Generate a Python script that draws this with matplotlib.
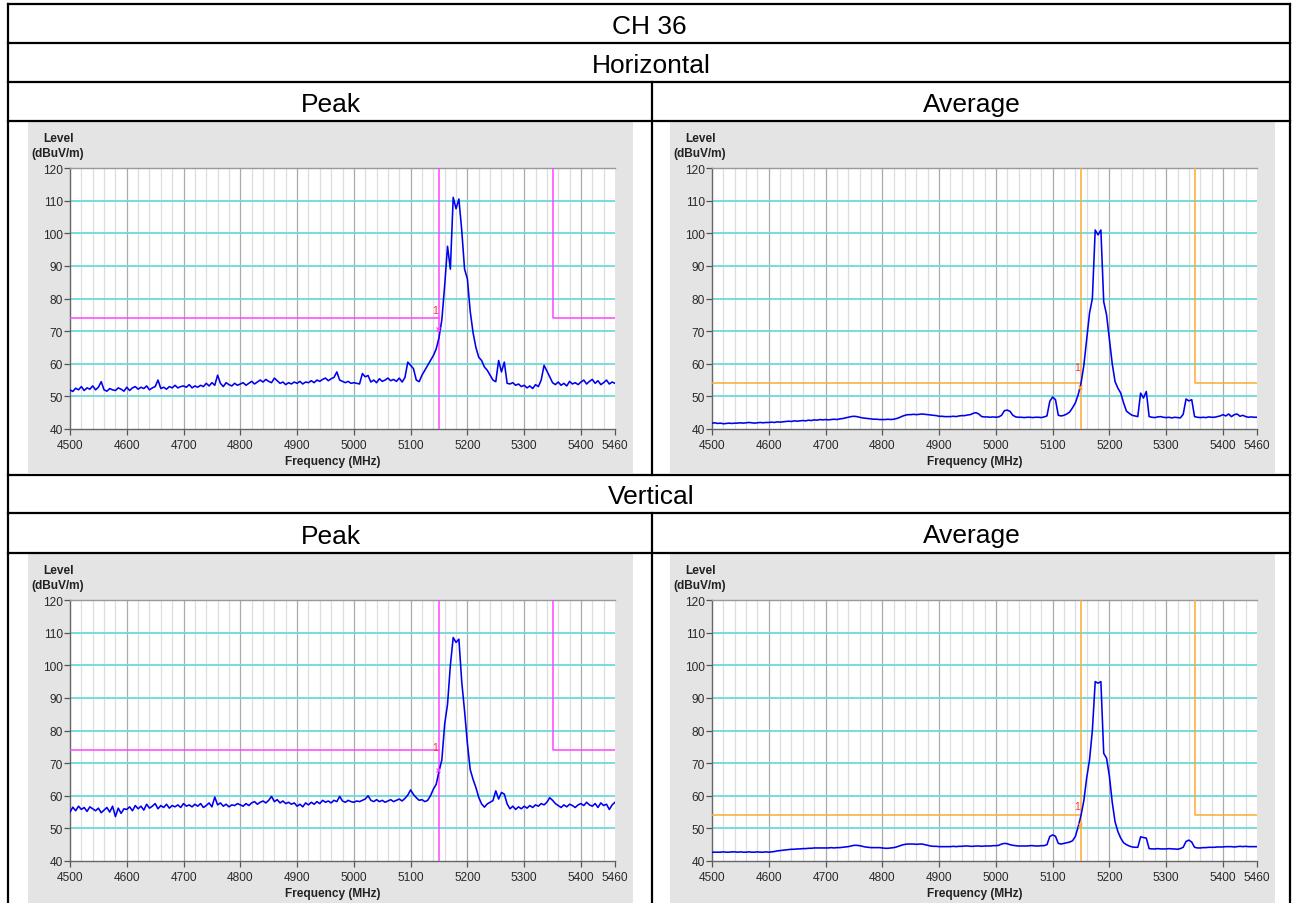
import numpy as np
import matplotlib
matplotlib.use('Agg')
import matplotlib.pyplot as plt
from matplotlib.lines import Line2D
from matplotlib.patches import Rectangle

plt.rcParams['font.family'] = ['Liberation Sans', 'DejaVu Sans']

# ---------------- data ----------------
title = "CH 36"
polarizations = ["Horizontal", "Vertical"]
detectors = ["Peak", "Average"]

freq = np.arange(4500, 5461, 5)  # MHz sweep points

x_ticks = [4500, 4600, 4700, 4800, 4900, 5000, 5100, 5200, 5300, 5400, 5460]
y_ticks = [40, 50, 60, 70, 80, 90, 100, 110, 120]

band_low = 5150
band_high = 5350
peak_limit = 74
avg_limit = 54

peak_h = [
    52.0, 51.5, 52.5, 52.0, 53.0, 51.8, 52.6, 52.2, 53.2, 52.0, 52.8, 54.5, 52.0, 51.6, 52.4, 52.0, 51.8, 52.6, 52.2, 51.6,
    52.8, 51.8, 52.6, 53.0, 52.2, 52.8, 52.4, 53.2, 52.0, 52.6, 53.0, 55.0, 52.4, 52.8, 52.2, 53.0, 52.6, 53.4, 52.6, 53.0,
    53.2, 52.8, 53.6, 52.6, 53.2, 52.8, 53.4, 53.0, 54.0, 53.2, 54.2, 53.4, 56.5, 54.0, 53.0, 54.2, 53.6, 53.2, 54.0, 53.4,
    53.8, 54.2, 53.4, 54.0, 54.6, 53.8, 54.4, 55.0, 54.4, 55.2, 54.6, 54.2, 55.6, 54.8, 54.0, 54.4, 53.6, 54.2, 53.8, 54.4,
    54.0, 54.6, 53.8, 54.4, 54.2, 54.8, 54.2, 55.0, 54.6, 55.2, 55.6, 54.8, 55.4, 55.8, 57.5, 55.0, 54.6, 54.2, 54.6, 54.0,
    54.2, 54.0, 53.8, 57.0, 56.0, 56.4, 54.4, 55.0, 54.2, 55.4, 54.6, 55.0, 55.6, 54.8, 55.2, 54.6, 55.6, 54.4, 55.8, 60.5,
    59.5, 58.5, 55.0, 54.5, 56.5, 58.0, 59.5, 61.0, 62.5, 64.5, 68.0, 73.5, 84.0, 96.0, 89.0, 111.0, 107.5, 110.5, 101.0, 89.0,
    86.0, 76.0, 69.5, 65.0, 62.0, 61.0, 59.0, 58.0, 56.5, 55.0, 54.5, 61.0, 57.5, 60.5, 54.0, 53.8, 54.2, 53.4, 53.8, 53.0,
    53.4, 52.6, 53.2, 52.4, 53.6, 53.0, 55.0, 59.5, 57.8, 56.0, 54.2, 53.6, 54.4, 53.4, 54.0, 53.2, 54.6, 53.8, 54.2, 53.6,
    54.4, 55.0, 53.8, 54.6, 55.2, 54.0, 54.8, 53.6, 54.2, 55.0, 53.8, 54.4, 54.0,
]

avg_h = [
    41.8, 41.9, 41.7, 41.8, 41.6, 41.7, 41.8, 41.7, 41.8, 41.8, 41.9, 41.8, 41.9, 42.0, 41.9, 41.8, 41.9, 42.0, 41.9, 42.0,
    42.0, 42.1, 42.0, 42.2, 42.1, 42.2, 42.3, 42.4, 42.3, 42.5, 42.4, 42.5, 42.6, 42.5, 42.7, 42.6, 42.8, 42.7, 42.9, 42.8,
    42.9, 42.8, 42.9, 43.0, 42.9, 43.1, 43.2, 43.4, 43.6, 43.8, 43.9, 43.8, 43.6, 43.4, 43.3, 43.2, 43.1, 43.0, 43.0, 42.9,
    42.9, 42.9, 43.0, 42.9, 43.0, 43.2, 43.5, 43.9, 44.2, 44.4, 44.4, 44.5, 44.4, 44.5, 44.6, 44.5, 44.4, 44.3, 44.2, 44.1,
    43.9, 43.9, 43.8, 43.8, 43.8, 43.9, 43.8, 44.0, 44.1, 44.1, 44.3, 44.4, 44.8, 45.0, 44.6, 43.8, 43.7, 43.7, 43.6, 43.7,
    43.6, 43.7, 44.2, 45.6, 45.8, 45.4, 44.2, 43.7, 43.6, 43.6, 43.5, 43.6, 43.6, 43.5, 43.6, 43.6, 43.5, 43.7, 44.0, 48.5,
    49.8, 49.0, 44.2, 44.0, 44.2, 44.6, 45.2, 46.5, 48.0, 50.5, 54.0, 59.5, 67.5, 75.5, 80.0, 101.0, 99.5, 101.0, 79.0, 75.0,
    67.5, 60.0, 54.5, 52.5, 51.0, 48.0, 45.5, 44.8, 44.2, 44.0, 43.8, 51.0, 49.5, 51.5, 43.8, 43.6, 43.5, 43.7, 43.8, 43.6,
    43.5, 43.6, 43.4, 43.6, 43.5, 43.4, 44.5, 49.2, 48.6, 49.0, 43.8, 43.6, 43.5, 43.6, 43.5, 43.7, 43.6, 43.6, 43.8, 44.0,
    44.4, 44.0, 44.6, 43.8, 44.4, 44.6, 43.9, 44.2, 43.8, 43.6, 43.7, 43.6, 43.6,
]

peak_v = [
    55.0, 56.5, 55.4, 56.8, 55.8, 56.4, 55.2, 56.6, 56.0, 55.4, 56.2, 54.8, 55.6, 56.4, 55.0, 56.8, 53.6, 56.2, 54.6, 56.0,
    55.8, 56.6, 55.4, 57.0, 56.0, 56.8, 55.6, 57.4, 56.2, 56.8, 57.6, 56.0, 57.0, 56.4, 57.4, 56.2, 57.0, 56.6, 57.2, 56.4,
    57.6, 56.8, 57.2, 56.6, 57.4, 56.8, 57.6, 56.4, 57.0, 57.8, 56.6, 59.6, 57.2, 57.8, 56.8, 57.4, 56.6, 57.2, 57.0, 57.6,
    57.2, 56.8, 57.6, 57.0, 57.8, 58.2, 57.4, 58.0, 58.4, 57.8, 58.6, 59.8, 58.2, 58.8, 57.8, 58.4, 57.6, 58.0, 57.4, 57.8,
    56.8, 57.4, 56.6, 57.8, 57.2, 58.0, 57.4, 58.2, 57.6, 58.6, 58.0, 58.4, 57.8, 58.6, 58.2, 59.8, 58.4, 58.0, 58.6, 58.2,
    58.0, 58.4, 58.2, 58.6, 59.0, 60.0, 58.6, 58.2, 58.8, 58.2, 58.6, 58.0, 58.4, 58.8, 58.2, 58.6, 59.0, 58.4, 59.2, 60.2,
    61.8, 60.4, 59.4, 58.6, 58.8, 58.2, 58.6, 60.0, 62.0, 63.5, 67.5, 71.0, 82.0, 88.0, 100.0, 108.5, 107.0, 108.0, 95.0, 86.0,
    76.0, 68.0, 65.0, 62.5, 59.5, 57.5, 56.5, 57.5, 58.0, 58.5, 61.5, 59.0, 61.0, 60.5, 57.5, 56.0, 56.8, 55.8, 56.6, 56.0,
    56.8, 56.2, 57.0, 56.4, 57.2, 56.8, 57.6, 57.2, 58.0, 59.4, 58.6, 57.6, 57.0, 56.4, 57.2, 56.6, 57.4, 57.0, 56.4, 57.2,
    57.6, 57.0, 58.0, 57.2, 56.8, 57.6, 56.4, 57.8, 57.0, 57.4, 55.8, 57.2, 58.0,
]

avg_v = [
    42.7, 42.7, 42.7, 42.7, 42.8, 42.7, 42.7, 42.8, 42.8, 42.7, 42.8, 42.7, 42.7, 42.8, 42.7, 42.7, 42.8, 42.7, 42.7, 42.8,
    42.7, 42.8, 42.9, 43.1, 43.2, 43.3, 43.4, 43.5, 43.6, 43.6, 43.7, 43.7, 43.8, 43.8, 43.9, 43.9, 44.0, 44.0, 44.0, 44.0,
    44.0, 44.0, 44.1, 44.0, 44.1, 44.1, 44.2, 44.3, 44.4, 44.6, 44.8, 44.8, 44.7, 44.5, 44.3, 44.2, 44.1, 44.1, 44.1, 44.1,
    44.0, 43.9, 43.9, 44.0, 44.1, 44.3, 44.6, 44.9, 45.1, 45.2, 45.2, 45.2, 45.1, 45.2, 45.2, 45.0, 44.8, 44.6, 44.5, 44.5,
    44.4, 44.4, 44.4, 44.4, 44.4, 44.5, 44.4, 44.5, 44.5, 44.6, 44.6, 44.5, 44.5, 44.6, 44.6, 44.5, 44.6, 44.6, 44.6, 44.7,
    44.7, 44.8, 45.2, 45.4, 45.3, 45.0, 44.8, 44.7, 44.6, 44.6, 44.6, 44.6, 44.7, 44.7, 44.6, 44.6, 44.7, 44.7, 45.0, 47.5,
    48.0, 47.6, 45.4, 45.2, 45.4, 45.6, 45.8, 46.2, 47.5, 50.5, 54.0, 58.5, 65.5, 71.0, 80.0, 95.0, 94.5, 95.0, 73.0, 71.5,
    66.0, 58.0, 52.0, 49.0, 47.0, 45.6, 45.0, 44.6, 44.3, 44.2, 44.2, 47.4, 47.2, 47.0, 43.8, 43.7, 43.7, 43.8, 43.7, 43.7,
    43.7, 43.8, 43.7, 43.7, 43.6, 43.8, 44.2, 46.0, 46.4, 45.8, 44.2, 44.0, 44.0, 44.1, 44.1, 44.2, 44.2, 44.2, 44.3, 44.3,
    44.3, 44.4, 44.4, 44.4, 44.3, 44.4, 44.5, 44.4, 44.5, 44.4, 44.4, 44.4, 44.4,
]

# marker "1" readings (value at the band edge)
marker_label_y = {"peak_h": 76.5, "avg_h": 59.0, "peak_v": 75.0, "avg_v": 57.0}
marker_point_y = {"peak_h": 70.5, "avg_h": 53.0, "peak_v": 68.0, "avg_v": 51.0}

# ---------------- figure ----------------
W, H = 1295, 904
fig = plt.figure(figsize=(W / 100, H / 100), dpi=100)
fig.patch.set_facecolor('white')


def fx(px):
    return px / W


def fy(py):
    return 1 - py / H


LINE_W = 1.6
BLACK = '#000000'


def hline(y, x0=8, x1=1290):
    fig.add_artist(Line2D([fx(x0), fx(x1)], [fy(y), fy(y)], color=BLACK, lw=LINE_W))


def vline(x, y0, y1):
    fig.add_artist(Line2D([fx(x), fx(x)], [fy(y0), fy(y1)], color=BLACK, lw=LINE_W))


for yy in [5, 44, 83, 122, 476, 514, 554]:
    hline(yy)
vline(8, 5, 904)
vline(1290, 5, 904)
vline(652, 83, 476)
vline(652, 514, 904)

HEAD_FS = 19
DY = 2.5
fig.text(fx(649), fy(24.5 + DY), title, ha='center', va='center', fontsize=HEAD_FS)
fig.text(fx(651), fy(63.5 + DY), polarizations[0], ha='center', va='center', fontsize=HEAD_FS)
fig.text(fx(331), fy(102.5 + DY), detectors[0], ha='center', va='center', fontsize=HEAD_FS)
fig.text(fx(972), fy(102.5 + DY), detectors[1], ha='center', va='center', fontsize=HEAD_FS)
fig.text(fx(651), fy(495 + DY), polarizations[1], ha='center', va='center', fontsize=HEAD_FS)
fig.text(fx(331), fy(534 + DY), detectors[0], ha='center', va='center', fontsize=HEAD_FS)
fig.text(fx(972), fy(534 + DY), detectors[1], ha='center', va='center', fontsize=HEAD_FS)

PANEL_GRAY = '#e4e4e4'
CYAN = '#6cdada'
MAGENTA = '#ff44ff'
ORANGE = '#ffaa33'
TRACE = '#0000ee'


def panel(ax_left, ax_top, gray_box, values, limit, limit_color, key):
    gx0, gy0, gx1, gy1 = gray_box
    fig.add_artist(Rectangle((fx(gx0), fy(gy1)), (gx1 - gx0) / W, (gy1 - gy0) / H,
                             facecolor=PANEL_GRAY, edgecolor='none', zorder=0))
    ax = fig.add_axes([fx(ax_left), fy(ax_top + 261), 545 / W, 261 / H])
    ax.set_facecolor('white')
    ax.set_xlim(4500, 5460)
    ax.set_ylim(40, 120)
    for f in range(4520, 5460, 20):
        col = '#aaaaaa' if f % 100 == 0 else '#dddddd'
        ax.axvline(f, color=col, lw=0.9, zorder=1)
    for v in y_ticks[1:-1]:
        ax.axhline(v, color=CYAN, lw=1.3, zorder=2)
    ax.axvline(band_low, color=limit_color, lw=1.1, zorder=3)
    ax.plot([4500, band_low], [limit, limit], color=limit_color, lw=1.1, zorder=3)
    ax.plot([band_high, band_high, 5460], [120, limit, limit], color=limit_color, lw=1.1, zorder=3)
    ax.plot(freq, values, color=TRACE, lw=1.15, zorder=4)
    ax.text(band_low - 1, marker_label_y[key], '1', color='#ff3333', fontsize=7.5,
            ha='right', va='center', zorder=5)
    ax.plot([band_low - 2], [marker_point_y[key]], marker='x', ms=3.5, mew=0.9,
            color=limit_color, zorder=5)

    ax.set_xticks(x_ticks)
    ax.set_yticks(y_ticks)
    ax.tick_params(axis='both', direction='out', length=4, width=0.9, color='#555555',
                   labelsize=8.6, labelcolor='#2a2a2a')
    ax.tick_params(axis='x', pad=3)
    ax.tick_params(axis='y', pad=1)
    for s in ['left', 'bottom']:
        ax.spines[s].set_color('#666666')
        ax.spines[s].set_linewidth(1.0)
    ax.spines['top'].set_color('#999999')
    ax.spines['top'].set_linewidth(1.0)
    ax.spines['right'].set_visible(False)

    fig.text(fx(ax_left - 11), fy(ax_top - 30), 'Level', ha='center', va='center',
             fontsize=8.6, fontweight='bold', color='#222222')
    fig.text(fx(ax_left - 12.5), fy(ax_top - 15), '(dBuV/m)', ha='center', va='center',
             fontsize=8.6, fontweight='bold', color='#222222')
    fig.text(fx(ax_left + 263), fy(ax_top + 293.5), 'Frequency (MHz)', ha='center', va='center',
             fontsize=8.6, fontweight='bold', color='#222222')
    return ax


panel(70, 169, (28, 123, 633, 474), peak_h, peak_limit, MAGENTA, 'peak_h')
panel(712, 169, (670, 123, 1275, 474), avg_h, avg_limit, ORANGE, 'avg_h')
panel(70, 601, (28, 555, 633, 904), peak_v, peak_limit, MAGENTA, 'peak_v')
panel(712, 601, (670, 555, 1275, 904), avg_v, avg_limit, ORANGE, 'avg_v')

fig.savefig('out.png', dpi=100, facecolor='white')
